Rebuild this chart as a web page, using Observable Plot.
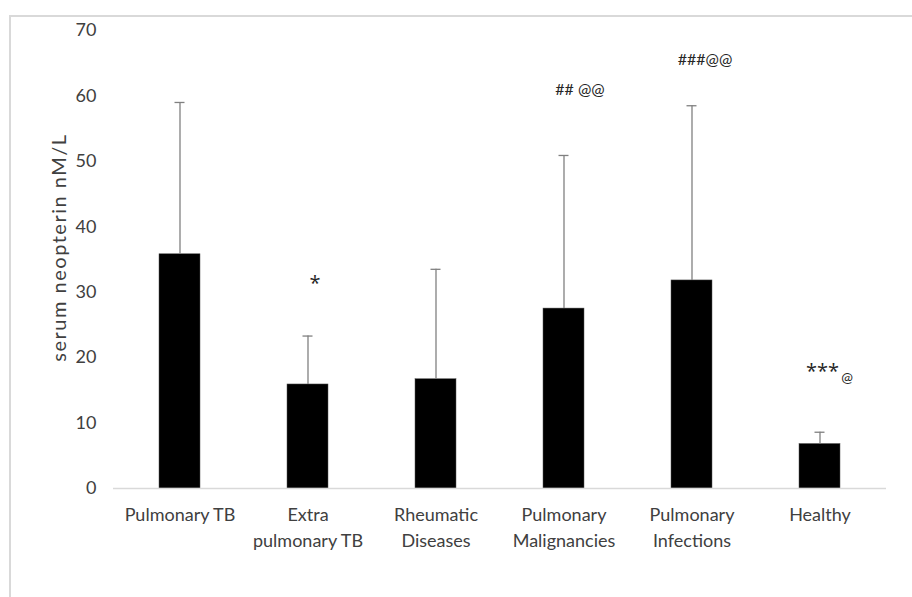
<!DOCTYPE html>
<html>
<head>
<meta charset="utf-8">
<script src="https://cdn.jsdelivr.net/npm/d3@7"></script>
<script src="https://cdn.jsdelivr.net/npm/@observablehq/plot@0.6"></script>
<style>
  html, body { margin: 0; padding: 0; background: #fff; overflow: hidden; }
  #wrap { position: relative; width: 912px; height: 597px; overflow: hidden; }
  #border { position: absolute; left: 9px; top: 15px; width: 1000px; height: 1000px; border: 2px solid #d9d9d9; box-sizing: border-box; }
  #chart { position: absolute; left: 0; top: 0; }
</style>
</head>
<body>
<div id="wrap"><div id="border"></div><div id="chart"></div></div>
<script>
const categories = ["Pulmonary TB", "Extra pulmonary TB", "Rheumatic Diseases", "Pulmonary Malignancies", "Pulmonary Infections", "Healthy"];
const tickLabels = ["Pulmonary TB", "Extra\npulmonary TB", "Rheumatic\nDiseases", "Pulmonary\nMalignancies", "Pulmonary\nInfections", "Healthy"];
const means = [35.8, 15.9, 16.7, 27.5, 31.8, 6.8];
const sds = [23.2, 7.4, 16.8, 23.4, 26.7, 1.8];
const yTicks = [0, 10, 20, 30, 40, 50, 60, 70];
const yLabel = "serum neopterin nM/L";

const annoLabels = ["*", "## @@", "###@@", "***", "@"];
const annoCats = ["Extra pulmonary TB", "Pulmonary Malignancies", "Pulmonary Infections", "Healthy", "Healthy"];
const annoY = [31.25, 60.9, 65.5, 17.8, 16.9];

const data = categories.map((c, i) => ({cat: c, mean: means[i], upper: means[i] + sds[i]}));
const annos = annoLabels.map((t, i) => ({label: t, cat: annoCats[i], y: annoY[i]}));

const annoStyle = [
  {dx: 7, fontSize: 20, font: "'Open Sans', sans-serif"},
  {dx: 16, fontSize: 16, font: "Lato, sans-serif"},
  {dx: 13, fontSize: 16, font: "Lato, sans-serif"},
  {dx: 2.4, fontSize: 20, font: "'Open Sans', sans-serif"},
  {dx: 27, fontSize: 14, font: "Lato, sans-serif"}
];

const plot = Plot.plot({
  width: 912,
  height: 597,
  marginLeft: 113,
  marginRight: 26,
  marginTop: 30,
  marginBottom: 109,
  style: {fontFamily: "Lato, 'Open Sans', sans-serif", fontSize: "18px", color: "#404040", background: "transparent", overflow: "visible"},
  x: {domain: categories, paddingInner: 0.68, paddingOuter: 0.34, tickSize: 0, tickPadding: 20, tickFormat: d => tickLabels[categories.indexOf(d)], label: null},
  y: {domain: [0, 70], ticks: yTicks, tickSize: 0, tickPadding: 17, label: null},
  marks: [
    Plot.barY(data, {x: "cat", y: "mean", fill: "black", stroke: "#555", strokeWidth: 0.5}),
    Plot.ruleY([0], {stroke: "#d9d9d9", strokeWidth: 1.5}),
    Plot.ruleX(data, {x: "cat", y1: "mean", y2: "upper", stroke: "#808080", strokeWidth: 1.3}),
    Plot.tickY(data, {x: "cat", y: "upper", stroke: "#808080", strokeWidth: 1.3, insetLeft: 15.5, insetRight: 15.5}),
    ...annos.map((a, i) => Plot.text([a], {x: "cat", y: "y", text: "label", dx: annoStyle[i].dx, fontSize: annoStyle[i].fontSize, fontFamily: annoStyle[i].font, fill: "#262626"})),
    Plot.text([yLabel], {frameAnchor: "left", textAnchor: "middle", text: d => d, rotate: -90, dx: -54, dy: -12, fontSize: 20, fill: "#404040"})
  ]
});

document.getElementById("chart").appendChild(plot);
// wider line spacing for two-line category labels
d3.select(plot).selectAll("tspan").each(function() {
  if (this.previousElementSibling && this.previousElementSibling.tagName === "tspan") {
    d3.select(this).attr("dy", "1.42em");
  }
});
d3.select(plot).selectAll("text").filter(function() { return this.textContent === yLabel; }).attr("letter-spacing", "1.5px");
</script>
</body>
</html>
